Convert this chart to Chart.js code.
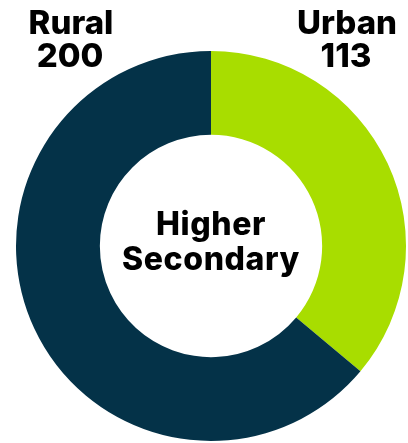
<!DOCTYPE html>
<html>
<head>
<meta charset="utf-8">
<script src="https://cdn.jsdelivr.net/npm/chart.js"></script>
<style>
  body { margin: 0; background: #fff; }
</style>
</head>
<body>
<canvas id="donut" width="408" height="443"></canvas>
<script>
var categories = ['Urban', 'Rural'];
var counts = [113, 200];
var sliceColors = ['#a8dd00', '#043248'];
var centerLines = ['Higher', 'Secondary'];

// labels in the top corners + title in the hole
var textPlugin = {
  id: 'donutText',
  afterDraw: function (chart) {
    var ctx = chart.ctx;
    ctx.save();
    ctx.fillStyle = '#000';
    ctx.textAlign = 'center';
    ctx.textBaseline = 'alphabetic';
    ctx.font = '800 33px Inter';
    // Rural top-left, Urban top-right
    ctx.fillText(categories[1], 71, 34);
    ctx.fillText(String(counts[1]), 70, 67);
    ctx.fillText(categories[0], 347, 34);
    ctx.fillText(String(counts[0]), 346, 67);

    var meta = chart.getDatasetMeta(0).data[0];
    ctx.font = '800 32px Inter';
    ctx.letterSpacing = '0.6px';
    ctx.fillText(centerLines[0], meta.x, meta.y - 11);
    ctx.fillText(centerLines[1], meta.x, meta.y + 24);
    ctx.restore();
  }
};

var donut = new Chart(document.getElementById('donut'), {
  type: 'doughnut',
  data: {
    labels: categories,
    datasets: [{
      data: counts,
      backgroundColor: sliceColors,
      borderWidth: 0
    }]
  },
  options: {
    responsive: false,
    animation: false,
    cutout: '57%',
    layout: { padding: { left: 16, right: 2, top: 51, bottom: 2 } },
    plugins: {
      legend: { display: false },
      tooltip: { enabled: false }
    }
  },
  plugins: [textPlugin]
});
</script>
</body>
</html>
